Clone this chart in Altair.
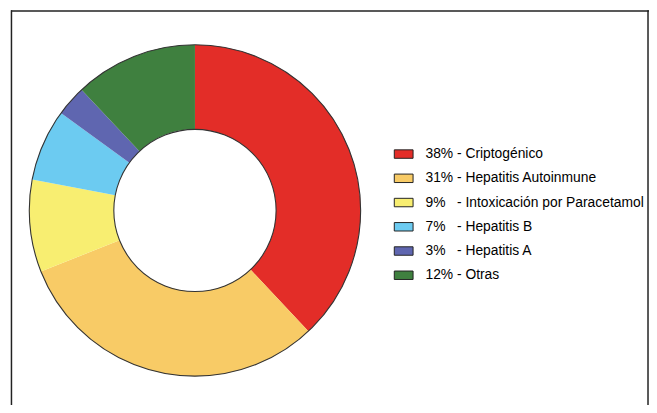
import altair as alt
import pandas as pd

labels = [
    "38% - Criptogénico",
    "31% - Hepatitis Autoinmune",
    "9%\u00a0\u00a0\u00a0- Intoxicación por Paracetamol",
    "7%\u00a0\u00a0\u00a0- Hepatitis B",
    "3%\u00a0\u00a0\u00a0- Hepatitis A",
    "12% - Otras",
]
values = [38, 31, 9, 7, 3, 12]
colors = ["#E32D28", "#F8CB66", "#F8EE71", "#6CCBF1", "#5F66B0", "#3F803F"]

df = pd.DataFrame({"label": labels, "value": values, "order": list(range(len(labels)))})

W, H = 648, 397
CX, CY = 189, 202.5
R_OUT, R_IN = 167.5, 82

slices = alt.Chart(df).mark_arc(radius=R_OUT, radius2=R_IN).encode(
    theta=alt.Theta("value:Q", stack=True),
    order=alt.Order("order:Q"),
    color=alt.Color(
        "label:N",
        scale=alt.Scale(domain=labels, range=colors),
        legend=alt.Legend(
            title=None,
            orient="none",
            legendX=390,
            legendY=135.5,
            symbolType="M-1,-0.45L1,-0.45L1,0.45L-1,0.45Z",
            symbolSize=361,
            symbolStrokeColor="#222222",
            symbolStrokeWidth=1,
            symbolOpacity=1,
            labelFont="Liberation Sans",
            labelFontSize=14,
            labelColor="#000000",
            labelLimit=400,
            labelOffset=12,
            rowPadding=7.5,
            padding=0,
        ),
    ),
    x=alt.value(CX),
    y=alt.value(CY),
)

ring_df = pd.DataFrame({"v": [1]})
ring = alt.Chart(ring_df).mark_arc(
    radius=R_OUT, radius2=R_IN, theta=0, theta2=6.2832,
    fillOpacity=0, stroke="#333333", strokeWidth=1.1
).encode(x=alt.value(CX), y=alt.value(CY))

frame_df = pd.DataFrame({"v": [1]})
left = alt.Chart(frame_df).mark_rule(color="#222222", strokeWidth=1.5).encode(
    x=alt.value(3.5), y=alt.value(0), y2=alt.value(H + 10))
top = alt.Chart(frame_df).mark_rule(color="#222222", strokeWidth=1.5).encode(
    x=alt.value(3), x2=alt.value(W), y=alt.value(0.75))
right = alt.Chart(frame_df).mark_rule(color="#222222", strokeWidth=1.5).encode(
    x=alt.value(W - 1), y=alt.value(0), y2=alt.value(H + 10))

chart = alt.layer(slices, ring, left, top, right).properties(
    width=W, height=H, padding=0,
    autosize=alt.AutoSizeParams(type="none"),
).configure_view(strokeWidth=0)

chart.save("out.html", embed_options={"renderer": "svg", "actions": False})
